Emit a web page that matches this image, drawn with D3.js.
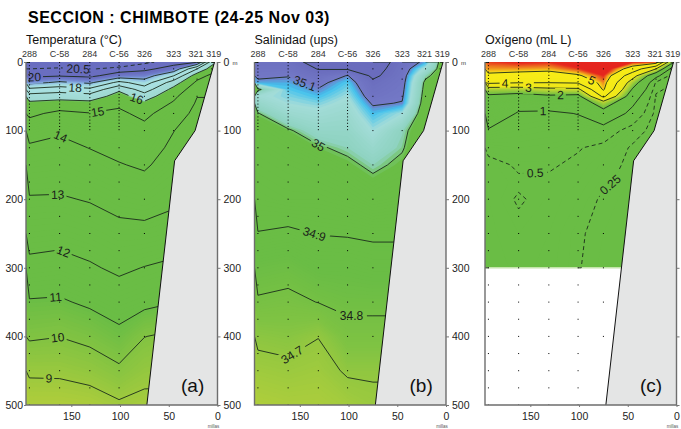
<!DOCTYPE html>
<html>
<head>
<meta charset="utf-8">
<title>Seccion Chimbote</title>
<script src="https://cdn.jsdelivr.net/npm/d3@7"></script>
<style>
  body { margin: 0; background: #fff; }
  svg text { font-family: "Liberation Sans", Arial, sans-serif; }
</style>
</head>
<body>
<svg id="chart" width="681" height="429"></svg>
<script>
// estaciones y distancia a la costa (millas)
const stations = ["288", "C-58", "284", "C-56", "326", "323", "321", "319"];
const stationMiles = [193, 162, 131, 101, 75, 45, 21, 6];

// niveles de profundidad (m)
const depthLevels = [0, 10, 20, 30, 40, 50, 60, 75, 100, 125, 150, 200, 250, 300, 350, 400, 450, 500];
const oxyDepthLevels = [0, 10, 20, 30, 40, 50, 60, 75, 100, 125, 150, 175, 200, 250, 300];

// temperatura (C) por estacion
const temp288 = [20.8, 20.5, 20.17, 19.29, 17.75, 16.56, 15.8, 15.2, 14.41, 13.86, 13.55, 12.93, 12.38, 11.75, 10.92, 10.13, 9.16, 8.4];
const tempC58 = [20.9, 20.43, 20.07, 18.83, 17.44, 16.45, 15.58, 14.78, 14.11, 13.76, 13.48, 12.92, 12.32, 11.65, 10.88, 10.02, 9.18, 8.4];
const temp284 = [20.7, 20.53, 20.19, 19.17, 17.75, 16.56, 15.72, 14.96, 14.49, 14.02, 13.7, 13.06, 12.48, 11.89, 11.17, 10.28, 9.38, 8.5];
const tempC56 = [20.8, 20.4, 19.6, 17.71, 16.17, 15.59, 15.14, 14.86, 14.55, 14.25, 13.95, 13.32, 12.72, 12.17, 11.49, 10.74, 9.81, 8.85];
const temp326 = [20.6, 20.19, 19.5, 18.5, 17.5, 16.5, 15.8, 15.2, 14.75, 14.44, 14.12, 13.44, 12.73, 11.97, 11.28, 10.02, 9.34, 8.7];
const temp323 = [20.3, 19.67, 18.02, 16.5, 15.68, 15.23, 14.89, 14.56, 14.02, 13.8, 13.6, 13.18, 12.56, 11.79, 11.03, 9.8, 9.2, 8.8];
const temp321 = [20.1, 17.02, 15.4, 14.8, 14.4, 14.02, 13.9, 13.7, 13.5, 13.4, 13.3, 13.02, 12.5, 11.8, 11.02, 9.8, 9.2, 8.8];
const temp319 = [16.5, 15.5, 14.8, 14.5, 14.2, 14.02, 13.9, 13.7, 13.5, 13.4, 13.3, 13.02, 12.5, 11.8, 11.02, 9.8, 9.2, 8.8];

// salinidad (ups)
const sal288 = [35.13, 35.12, 35.11, 35.09, 34.99, 35.05, 35.03, 34.998, 34.975, 34.96, 34.95, 34.93, 34.898, 34.84, 34.79, 34.72, 34.67, 34.63];
const salC58 = [35.13, 35.12, 35.102, 35.09, 35.08, 35.07, 35.06, 35.04, 34.995, 34.975, 34.96, 34.94, 34.89, 34.83, 34.78, 34.73, 34.68, 34.64];
const sal284 = [35.17, 35.152, 35.13, 35.11, 35.098, 35.085, 35.07, 35.05, 35.025, 34.995, 34.97, 34.94, 34.902, 34.86, 34.802, 34.702, 34.67, 34.64];
const salC56 = [35.17, 35.155, 35.098, 35.08, 35.07, 35.06, 35.05, 35.04, 35.025, 35.01, 34.99, 34.95, 34.905, 34.86, 34.82, 34.77, 34.71, 34.66];
const sal326 = [35.18, 35.17, 35.16, 35.14, 35.13, 35.12, 35.105, 35.085, 35.06, 35.035, 35.01, 34.97, 34.91, 34.87, 34.82, 34.77, 34.71, 34.68];
const sal323 = [35.13, 35.125, 35.12, 35.115, 35.11, 35.105, 35.098, 35.06, 35.012, 35.004, 34.99, 34.96, 34.91, 34.87, 34.82, 34.77, 34.71, 34.68];
const sal321 = [35.09, 35.05, 35.01, 34.99, 34.985, 34.98, 34.975, 34.97, 34.965, 34.96, 34.955, 34.95, 34.91, 34.87, 34.82, 34.77, 34.71, 34.68];
const sal319 = [34.99, 34.985, 34.98, 34.98, 34.975, 34.97, 34.97, 34.965, 34.96, 34.96, 34.955, 34.95, 34.91, 34.87, 34.82, 34.77, 34.71, 34.68];

// oxigeno (mL/L), solo hasta 300 m
const oxy288 = [5.5, 5.25, 4.85, 4.2, 2.5, 1.85, 1.7, 1.4, 0.95, 0.58, 0.42, 0.41, 0.4, 0.38, 0.36];
const oxyC58 = [5.6, 5.25, 4.7, 4.05, 2.5, 1.65, 1.2, 0.95, 0.8, 0.65, 0.53, 0.47, 0.52, 0.45, 0.42];
const oxy284 = [5.55, 5.2, 4.6, 4.02, 2.75, 1.85, 1.3, 0.9, 0.75, 0.62, 0.53, 0.46, 0.44, 0.4, 0.38];
const oxyC56 = [5.8, 5.5, 4.9, 4.1, 2.8, 1.75, 1.3, 1.02, 0.75, 0.52, 0.45, 0.4, 0.35, 0.27, 0.26];
const oxy326 = [6.2, 5.9, 5.55, 5.3, 5.1, 4.2, 2.5, 1.6, 0.7, 0.42, 0.33, 0.28, 0.22, 0.2, 0.18];
const oxy323 = [5.6, 4.6, 3.4, 2.5, 1.9, 1.4, 1.1, 0.8, 0.35, 0.22, 0.2, 0.19, 0.18, 0.17, 0.16];
const oxy321 = [5.5, 3.0, 1.2, 0.45, 0.3, 0.22, 0.2, 0.18, 0.17, 0.17, 0.16, 0.16, 0.16, 0.16, 0.16];
const oxy319 = [2.5, 0.9, 0.4, 0.26, 0.2, 0.18, 0.17, 0.17, 0.16, 0.16, 0.16, 0.16, 0.16, 0.16, 0.16];

// talud / fondo (millas, m)
const shelfMiles = [3, 23, 44, 72.5];
const shelfDepth = [0, 100, 144, 500];

// profundidades de muestreo
const deepBottles = [125, 150, 175, 200, 225, 250, 275, 300, 325, 350, 375, 400, 425, 450, 475, 500];
const bottles326 = [10, 25, 50, 75, 100, 150, 200, 250, 300, 350, 400];
const bottles323 = [10, 25, 50, 75, 100];
const bottles321 = [10, 25, 50];
const bottles319 = [10];

const depthTicks = [0, 100, 200, 300, 400, 500];
const mileTicks = [150, 100, 50, 0];

const svg = d3.select("#chart");
const plotTop = 62, plotBottom = 405, plotW = 191.5;
const y = d3.scaleLinear().domain([0, 500]).range([plotTop, plotBottom]);

svg.append("text")
    .attr("x", 28).attr("y", 23)
    .style("font-size", "16px").style("font-weight", "bold")
    .style("letter-spacing", "0.5px")
    .text("SECCION : CHIMBOTE (24-25 Nov 03)");

function drawPanel(opt) {
    const x = d3.scaleLinear().domain([196.5, 0]).range([opt.left, opt.left + plotW]);
    const n = stationMiles.length, m = opt.depths.length;
    const values = [];
    for (let j = 0; j < m; j++)
        for (let i = 0; i < n; i++) values.push(opt.grid[i][j]);

    // indice de la grilla -> millas / metros
    const cx = d3.scaleLinear()
        .domain([0, ...d3.range(n).map(i => i + 0.5), n])
        .range([196.5, ...stationMiles, 0]);
    const cy = d3.scaleLinear()
        .domain([0, ...d3.range(m).map(j => j + 0.5), m])
        .range([0, ...opt.depths, opt.depths[m - 1]]);
    const px = p => [x(cx(p[0])), y(cy(p[1]))];

    const g = svg.append("g");
    const clipId = "clip-" + opt.key;
    svg.append("clipPath").attr("id", clipId)
        .append("rect")
        .attr("x", opt.left).attr("y", plotTop)
        .attr("width", plotW).attr("height", plotBottom - plotTop);

    const body = g.append("g").attr("clip-path", "url(#" + clipId + ")");

    // campo de color
    const proj = d3.geoTransform({
        point: function (a, b) { const q = px([a, b]); this.stream.point(q[0], q[1]); }
    });
    const path = d3.geoPath(proj);
    const fills = d3.contours().size([n, m]).thresholds(opt.fillSteps)(values);
    body.append("rect")
        .attr("x", opt.left).attr("y", plotTop)
        .attr("width", plotW).attr("height", y(opt.depths[m - 1]) - plotTop)
        .attr("fill", opt.color(opt.fillSteps[0]));
    body.append("g").selectAll("path")
        .data(fills)
        .join("path")
        .attr("d", path)
        .attr("fill", d => opt.color(d.value + opt.step / 2));

    if (opt.bottomLine) {
        body.append("line")
            .attr("x1", opt.left).attr("x2", opt.left + plotW)
            .attr("y1", y(opt.depths[m - 1])).attr("y2", y(opt.depths[m - 1]))
            .attr("stroke", "#c4e4ab").attr("stroke-width", 1.5);
    }

    // isolineas sin los bordes de la grilla
    const onBorder = (p, q) => (p[0] === 0 && q[0] === 0) || (p[0] === n && q[0] === n) ||
        (p[1] === 0 && q[1] === 0) || (p[1] === m && q[1] === m);
    function isoLines(level) {
        const geo = d3.contours().size([n, m]).contour(values, level);
        const out = [];
        geo.coordinates.forEach(poly => poly.forEach(ring => {
            const pts = ring.slice(0, -1), N = pts.length;
            let k = -1;
            for (let i = 0; i < N; i++) if (onBorder(pts[i], pts[(i + 1) % N])) { k = i; break; }
            if (k < 0) { out.push(ring.slice()); return; }
            let cur = [];
            for (let s = 1; s <= N; s++) {
                const i = (k + s) % N, p = pts[i], q = pts[(i + 1) % N];
                if (onBorder(p, q)) { if (cur.length > 1) out.push(cur); cur = []; }
                else { if (!cur.length) cur.push(p); cur.push(q); }
            }
            if (cur.length > 1) out.push(cur);
        }));
        return out.map(l => l.map(px));
    }

    const lineSets = opt.levels.map(v => ({ v: v, lines: isoLines(v) }));

    // etiquetas de las isolineas
    const labels = [];
    opt.labels.forEach(lb => {
        const set = lineSets.find(s => s.v === lb[0]);
        const X0 = x(lb[1]), Yh = y(lb[2]);
        let best = null;
        set.lines.forEach(l => {
            for (let i = 0; i < l.length - 1; i++) {
                const a = l[i], b = l[i + 1];
                if ((a[0] - X0) * (b[0] - X0) <= 0 && a[0] !== b[0]) {
                    const t = (X0 - a[0]) / (b[0] - a[0]);
                    const Y = a[1] + t * (b[1] - a[1]);
                    const d = Math.abs(Y - Yh);
                    if (!best || d < best.d) {
                        let ang = Math.atan2(b[1] - a[1], b[0] - a[0]) * 180 / Math.PI;
                        if (ang > 90) ang -= 180;
                        if (ang < -90) ang += 180;
                        best = { d: d, X: X0, Y: Y, ang: Math.max(-60, Math.min(60, ang)) };
                    }
                }
            }
        });
        if (best) labels.push({ text: lb[3] || String(lb[0]), X: best.X, Y: best.Y, ang: best.ang });
    });

    const fs = 12;
    const maskId = "mask-" + opt.key;
    const mask = svg.append("mask").attr("id", maskId).attr("maskUnits", "userSpaceOnUse")
        .attr("x", 0).attr("y", 0).attr("width", 681).attr("height", 429);
    mask.append("rect").attr("width", 681).attr("height", 429).attr("fill", "white");
    labels.forEach(l => {
        const w = l.text.length * fs * 0.56 + 4;
        mask.append("rect")
            .attr("x", -w / 2).attr("y", -fs / 2 - 1)
            .attr("width", w).attr("height", fs + 2)
            .attr("transform", `translate(${l.X},${l.Y}) rotate(${l.ang})`)
            .attr("fill", "black");
    });

    const lineGen = d3.line();
    const lg = body.append("g").attr("mask", "url(#" + maskId + ")");
    lineSets.forEach(s => {
        lg.selectAll(null)
            .data(s.lines)
            .join("path")
            .attr("d", lineGen)
            .attr("fill", "none")
            .attr("stroke", "#1c2b1c")
            .attr("stroke-width", 0.9)
            .attr("stroke-dasharray", opt.dashed.includes(s.v) ? "4,3" : null);
    });

    // estaciones: perfiles y botellas
    const dots = body.append("g");
    [0, 1, 2, 3].forEach(i => {
        dots.append("line")
            .attr("x1", x(stationMiles[i])).attr("x2", x(stationMiles[i]))
            .attr("y1", y(0)).attr("y2", y(100))
            .attr("stroke", "#000").attr("stroke-width", 1)
            .attr("stroke-dasharray", "1,2.2");
        dots.selectAll(null).data(deepBottles).join("rect")
            .attr("x", x(stationMiles[i]) - 0.5).attr("y", d => y(d) - 0.5)
            .attr("width", 1).attr("height", 1).attr("fill", "#000");
    });
    [[4, bottles326], [5, bottles323], [6, bottles321], [7, bottles319]].forEach(([i, arr]) => {
        dots.selectAll(null).data(arr).join("rect")
            .attr("x", x(stationMiles[i]) - 0.5).attr("y", d => y(d) - 0.5)
            .attr("width", 1).attr("height", 1).attr("fill", "#000");
    });

    // fondo
    const shelfPts = shelfMiles.map((d, i) => [x(d), y(shelfDepth[i])]);
    body.append("path")
        .attr("d", d3.line()([...shelfPts, [x(0) + 2, y(500)], [x(0) + 2, y(0)]]) + "Z")
        .attr("fill", "#e4e5e5");
    body.append("path")
        .attr("d", d3.line()(shelfPts))
        .attr("fill", "none").attr("stroke", "#111").attr("stroke-width", 1);

    // texto de etiquetas
    g.append("g").selectAll("text")
        .data(labels)
        .join("text")
        .attr("transform", l => `translate(${l.X},${l.Y}) rotate(${l.ang})`)
        .attr("text-anchor", "middle")
        .attr("dy", "0.36em")
        .style("font-size", fs + "px")
        .attr("fill", "#1a1f1a")
        .text(l => l.text);

    // marco
    g.append("path")
        .attr("d", `M${opt.left},${plotTop}V${plotBottom}H${opt.left + plotW}V${plotTop}`)
        .attr("fill", "none").attr("stroke", "#6e6e6e").attr("stroke-width", 1.4);

    // ejes
    const axR = g.append("g")
        .attr("transform", `translate(${opt.left + plotW},0)`)
        .call(d3.axisRight(y).tickValues(depthTicks).tickSize(3).tickPadding(3));
    axR.select(".domain").remove();
    axR.selectAll("text").style("font-size", "10.5px").attr("fill", "#222");
    axR.selectAll("line").attr("stroke", "#777");
    if (opt.rightLabels) {
        g.append("text")
            .attr("x", opt.left + plotW + 15).attr("y", y(0) + 3)
            .style("font-size", "6px").attr("fill", "#333")
            .text("m");
    } else {
        axR.selectAll("text").remove();
    }

    if (opt.leftAxis) {
        const axL = g.append("g")
            .attr("transform", `translate(${opt.left},0)`)
            .call(d3.axisLeft(y).tickValues(depthTicks).tickSize(2).tickPadding(1));
        axL.select(".domain").remove();
        axL.selectAll("text").style("font-size", "10.5px").attr("fill", "#222");
        axL.selectAll("line").attr("stroke", "#777");
    }

    const axB = g.append("g")
        .attr("transform", `translate(0,${plotBottom})`)
        .call(d3.axisBottom(x).tickValues(mileTicks).tickSize(2).tickPadding(6));
    axB.select(".domain").remove();
    axB.selectAll("text").style("font-size", "10.5px").attr("fill", "#222");
    axB.selectAll("line").attr("stroke", "#777");
    g.append("text")
        .attr("x", x(0) - 4).attr("y", 428)
        .attr("text-anchor", "middle")
        .style("font-size", "4.5px").attr("fill", "#555")
        .text("millas");

    // estaciones arriba
    g.append("g").selectAll("text")
        .data(stations)
        .join("text")
        .attr("x", (d, i) => x(stationMiles[i]) + (i === 6 ? -1 : i === 7 ? 2 : 0))
        .attr("y", 57)
        .attr("text-anchor", "middle")
        .style("font-size", "9px").attr("fill", "#333")
        .text(d => d);

    g.append("text")
        .attr("x", opt.left).attr("y", 44)
        .style("font-size", "12.5px").attr("fill", "#111")
        .text(opt.title);

    g.append("text")
        .attr("x", opt.left + 155).attr("y", 392)
        .style("font-size", "19px").attr("fill", "#111")
        .text(opt.tag);
}

const tempColor = d3.scaleLinear()
    .domain([8.3, 9.5, 11, 15.9, 16.05, 17.5, 18.4, 18.9, 19.4, 19.8])
    .range(["#b2ce3b", "#8fc640", "#6abd45", "#6abd45", "#9fd9d2", "#a9e0e1", "#a6dfe0", "#8cb9e4", "#7285cf", "#6a6ec0"])
    .clamp(true);
const salColor = d3.scaleLinear()
    .domain([34.62, 34.75, 34.85, 34.995, 35.01, 35.06, 35.085, 35.1, 35.15])
    .range(["#b3cf3b", "#80c343", "#6abd45", "#6abd45", "#8ed3c0", "#a3dcd9", "#41c1ee", "#7379c6", "#6a6cbd"])
    .clamp(true);
const oxyColor = d3.scaleLinear()
    .domain([0, 2.0, 2.6, 3.2, 5.0, 5.25, 5.55])
    .range(["#6abd45", "#6abd45", "#b3d236", "#f0e71b", "#f8ec17", "#f09a20", "#e5261f"])
    .clamp(true);

drawPanel({
    key: "t", left: 26, leftAxis: true, rightLabels: true,
    title: "Temperatura (°C)", tag: "(a)",
    depths: depthLevels,
    grid: [temp288, tempC58, temp284, tempC56, temp326, temp323, temp321, temp319],
    fillSteps: d3.range(8, 21.5, 0.1), step: 0.1, color: tempColor,
    levels: [9, 10, 11, 12, 13, 14, 15, 16, 17, 18, 19, 20, 20.5],
    dashed: [20.5],
    labels: [[20.5, 143, 8], [20, 188, 22], [18, 146, 36], [16, 83, 52], [15, 123, 72],
             [14, 161, 105], [13, 164, 195], [12, 158, 280], [11, 166, 343], [10, 164, 400], [9, 173, 459]]
});

drawPanel({
    key: "s", left: 254.5, leftAxis: false, rightLabels: true,
    title: "Salinidad  (ups)", tag: "(b)",
    depths: depthLevels,
    grid: [sal288, salC58, sal284, salC56, sal326, sal323, sal321, sal319],
    fillSteps: d3.range(34.55, 35.25, 0.005), step: 0.005, color: salColor,
    levels: [34.7, 34.8, 34.9, 35, 35.1, 35.15],
    dashed: [],
    labels: [[35.1, 145, 30], [35, 131, 118], [34.9, 135, 243], [34.8, 97, 372], [34.7, 158, 425]]
});

drawPanel({
    key: "o", left: 485, leftAxis: false, rightLabels: false, bottomLine: true,
    title: "Oxígeno (mL L)", tag: "(c)",
    depths: oxyDepthLevels,
    grid: [oxy288, oxyC58, oxy284, oxyC56, oxy326, oxy323, oxy321, oxy319],
    fillSteps: d3.range(0, 6.5, 0.05), step: 0.05, color: oxyColor,
    levels: [0.25, 0.5, 1, 2, 3, 4, 5],
    dashed: [0.25, 0.5],
    labels: [[5, 87, 30], [4, 176, 32], [3, 152, 37], [2, 119, 48], [1, 137, 68],
             [0.5, 145, 160], [0.25, 68, 175]]
});
</script>
</body>
</html>
